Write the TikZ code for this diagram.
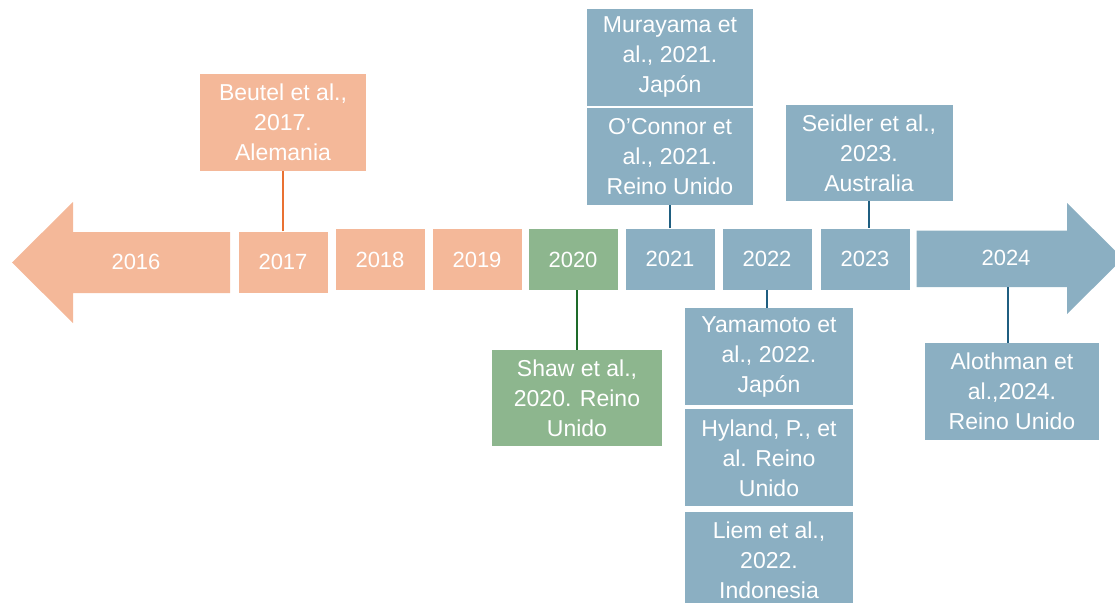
\documentclass[tikz,border=0pt]{standalone}
\usepackage{fontspec}
\setmainfont{Liberation Sans}
\usetikzlibrary{positioning}
\definecolor{salmon}{HTML}{F4B899}
\definecolor{sage}{HTML}{8DB68E}
\definecolor{steel}{HTML}{8BAFC2}
\definecolor{rust}{HTML}{E97132}
\definecolor{forest}{HTML}{1E6B2A}
\definecolor{navy}{HTML}{1F5E80}

\begin{document}
\begin{tikzpicture}[x=1pt, y=-1pt, font=\fontsize{22}{29.5}\selectfont,
	yearbox/.style={rectangle, fill=#1, text=white, minimum width=89pt, minimum height=61pt, inner sep=0pt},
	refbox/.style={rectangle, fill=#1, text=white, align=center, font=\fontsize{23}{30}\selectfont, minimum width=167pt, minimum height=97pt, inner sep=0pt},
	link/.style={draw=#1, line width=1.5pt}]
			\useasboundingbox (0,0) rectangle (1115,602);
			
			% Timeline ends
			\fill[salmon] (12,262.5) -- (73,202) -- (73,232) -- (230,232) -- (230,293) -- (73,293) -- (73,323) -- cycle;
			\node[text=white] (y2016) at (136,262) {2016};
			\fill[steel] (916.5,230.5) -- (1067,230.5) -- (1067,203) -- (1123,258.5) -- (1067,314) -- (1067,287) -- (916.5,287) -- cycle;
			\node[text=white] (y2024) at (1006,258) {2024};
			\coordinate (s2024) at (1008,287);
			
			% Year boxes
			\node[yearbox=salmon] (y2017) at (283,262) {2017};
			\node[yearbox=salmon] (y2018) at (380,259.5) {2018};
			\node[yearbox=salmon] (y2019) at (477,259.5) {2019};
			\node[yearbox=sage] (y2020) at (573,259.5) {2020};
			\node[yearbox=steel] (y2021) at (670,259) {2021};
			\node[yearbox=steel] (y2022) at (767,259) {2022};
			\node[yearbox=steel] (y2023) at (865,259) {2023};
			
			% Studies above the line
			\node[refbox=salmon, minimum width=166pt] (beutel) at (283,122.5) {Beutel et al.,\\2017.\\Alemania};
			\node[refbox=steel, minimum width=166pt] (oconnor) at (670,156.5) {O’Connor et\\al., 2021.\\Reino Unido};
			\node[refbox=steel, minimum width=166pt, above=2pt of oconnor] (murayama) {Murayama et\\al., 2021.\\Japón};
			\node[refbox=steel, minimum height=96pt] (seidler) at (869,153) {Seidler et al.,\\2023.\\Australia};
			
			% Studies below the line
			\node[refbox=sage, minimum width=170pt, minimum height=96pt] (shaw) at (577,398) {Shaw et al.,\\2020. Reino\\Unido};
			\node[refbox=steel, minimum width=168pt] (yamamoto) at (769,356.5) {Yamamoto et\\al., 2022.\\Japón};
			\node[refbox=steel, minimum width=168pt, below=4pt of yamamoto] (hyland) {Hyland, P., et\\al. Reino\\Unido};
			\node[refbox=steel, minimum width=168pt, below=5pt of hyland] (liem) {Liem et al.,\\2022.\\Indonesia};
			\node[refbox=steel, minimum width=174pt] (alothman) at (1012,391.5) {Alothman et\\al.,2024.\\Reino Unido};
			
			% Connectors
			\draw[link=rust] (y2017) -- (beutel);
			\draw[link=navy] (y2021) -- (oconnor);
			\draw[link=navy] (seidler) -- (seidler |- y2023.north);
			\draw[link=forest] (shaw.north) -- (shaw.north |- y2020.south);
			\draw[link=navy] (y2022.south) -- (y2022.south |- yamamoto.north);
			\draw[link=navy] (s2024) -- (s2024 |- alothman.north);
		\end{tikzpicture}
\end{document}
